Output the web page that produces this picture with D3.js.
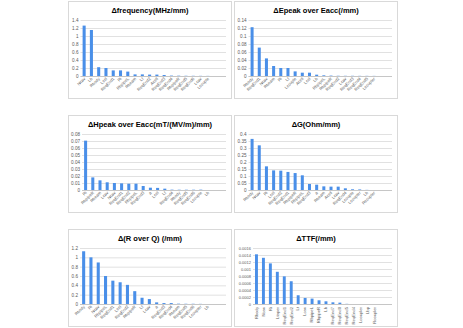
<!DOCTYPE html>
<html>
<head>
<meta charset="utf-8">
<script src="https://cdn.jsdelivr.net/npm/d3@7"></script>
<style>
  body { margin: 0; background: #fff; }
  text { font-family: "Liberation Sans", Arial, sans-serif; }
</style>
</head>
<body>
<svg id="chart" width="463" height="328"></svg>
<script>
// data
var freqCats = ["Ncav","Lb","Rbody","Lcel","ReqEnd1","Ri","RbpipeL","Rbeam","Lt","ReqEnd2","Acell","ReqEnd3","ReqEnd4","RbpipeR","ReqEnd5","ReqEnd6","Lcav","Lcouple"];
var freqVals = [1.26,1.15,0.22,0.20,0.14,0.14,0.11,0.04,0.04,0.035,0.035,0.025,0.01,0.008,0.006,0.005,0.004,0.003];
var freqTicks = [0,0.2,0.4,0.6,0.8,1,1.2,1.4];

var epeakCats = ["Rbody","ReqEnd1","Ncav","Rbeam","Ri","Lt","Lcouple","Acell","Lcel","Lb","RbpipeL","RbpipeR","ReqEnd2","Lcav","ReqEnd3","ReqEnd4","ReqEnd5","Lcoupler"];
var epeakVals = [0.122,0.071,0.044,0.025,0.020,0.020,0.0115,0.0083,0.0083,0.0033,0.0017,0.001,0.0006,0.0005,0.0005,0.0004,0.0004,0.0003];
var epeakTicks = [0,0.02,0.04,0.06,0.08,0.1,0.12,0.14];

var hpeakCats = ["Ri","RbpipeR","Rbeam","Lcav","Ncav","ReqEnd1","ReqEnd2","RbpipeL","ReqEnd3","a","Lcel","Lt","ReqEnd4","Rbody","ReqEnd5","ReqEnd6","Lcouple","Lb"];
var hpeakVals = [0.0705,0.018,0.0138,0.011,0.010,0.0095,0.009,0.009,0.0057,0.0033,0.003,0.0019,0.0005,0.0004,0.0004,0.0004,0.0005,0];
var hpeakTicks = [0,0.01,0.02,0.03,0.04,0.05,0.06,0.07,0.08];

var gCats = ["Rbody","Ncav","Ri","Lcel","ReqEnd2","ReqEnd1","RbpipeR","RbpipeL","ReqEnd3","a","Rbeam","Acell","Lcav","ReqEnd4","Lcouple","Lcoupler","Lb","Rcoupler"];
var gVals = [0.365,0.319,0.169,0.140,0.138,0.129,0.121,0.105,0.043,0.038,0.026,0.024,0.024,0.012,0.005,0.004,0.001,0];
var gTicks = [0,0.05,0.1,0.15,0.2,0.25,0.3,0.35,0.4];

var rqCats = ["Rbody","Ri","Ncav","RbpipeL","ReqEnd1","Lcel","ReqEnd2","RbpipeR","Lt","Lcav","a","ReqEnd3","ReqEnd4","Rbeam","ReqEnd5","ReqEnd6","Lcoupler","Lb"];
var rqVals = [1.13,1.00,0.89,0.60,0.50,0.466,0.41,0.275,0.134,0.106,0.035,0.02,0.02,0.007,0.005,0.005,0.003,0];
var rqTicks = [0,0.2,0.4,0.6,0.8,1,1.2];

var ttfCats = ["Rbody","Ncav","Ri","Ltaper","ReqEnd1","ReqEnd2","Lt","Lcav","RbpipeL","RbpipeR","Lb","ReqEnd7","ReqEnd0","ReqEnd5","ReqEnd4","Lcoupler","Lbp","Rcoupler"];
var ttfVals = [0.00142,0.00132,0.00116,0.00092,0.00079,0.00065,0.00025,0.000173,0.000154,0.000106,0.000077,0.000048,0.000039,0.000005,0,0,0,0];
var ttfTicks = [0,0.0002,0.0004,0.0006,0.0008,0.001,0.0012,0.0014,0.0016];

var panels = [
  {title: "\u0394frequency(MHz/mm)", cats: freqCats, vals: freqVals, ticks: freqTicks, px: 68, py: 1, left: 12.5, rot: -45, tickFont: 4.6},
  {title: "\u0394Epeak over Eacc(/mm)", cats: epeakCats, vals: epeakVals, ticks: epeakTicks, px: 234, py: 1, left: 14.5, rot: -45, tickFont: 4.6},
  {title: "\u0394Hpeak over Eacc(mT/(MV/m)/mm)", cats: hpeakCats, vals: hpeakVals, ticks: hpeakTicks, px: 68, py: 115, left: 14, rot: -45, tickFont: 4.6},
  {title: "\u0394G(Ohm/mm)", cats: gCats, vals: gVals, ticks: gTicks, px: 234, py: 115, left: 14.5, rot: -45, tickFont: 4.6},
  {title: "\u0394(R over Q) (/mm)", cats: rqCats, vals: rqVals, ticks: rqTicks, px: 68, py: 229, left: 12, rot: -45, tickFont: 4.6},
  {title: "\u0394TTF(/mm)", cats: ttfCats, vals: ttfVals, ticks: ttfTicks, px: 234, py: 229, left: 19, rot: -90, tickFont: 4}
];

var panelW = 164, panelH = 98;
var svg = d3.select("#chart");

panels.forEach(function(p) {
  var g = svg.append("g").attr("transform", "translate(" + p.px + "," + p.py + ")");

  g.append("rect")
    .attr("x", 0.5).attr("y", 0.5)
    .attr("width", panelW - 1).attr("height", panelH - 1)
    .attr("fill", "#fff").attr("stroke", "#d9d9d9");

  g.append("text")
    .attr("x", panelW / 2).attr("y", 11.5)
    .attr("text-anchor", "middle")
    .style("font-size", "7.5px").style("font-weight", "bold")
    .attr("fill", "#000")
    .text(p.title);

  var top = 19, bottom = 75, left = p.left, right = panelW - 6;
  var step = (right - left) / 20;   // chart area has room for 20 slots

  var y = d3.scaleLinear()
    .domain([0, p.ticks[p.ticks.length - 1]])
    .range([bottom, top]);

  var x = d3.scaleBand()
    .domain(p.cats)
    .range([left, left + step * p.cats.length])
    .paddingInner(0.58)
    .paddingOuter(0.29);

  // gridlines + y labels
  var yAxis = g.append("g")
    .attr("transform", "translate(" + left + ",0)")
    .call(d3.axisLeft(y).tickValues(p.ticks).tickSize(-(right - left)).tickPadding(2)
      .tickFormat(function(d) { return String(d); }));
  yAxis.select(".domain").remove();
  yAxis.selectAll("line").attr("stroke", "#d9d9d9").attr("stroke-width", 0.8);
  yAxis.selectAll("text").attr("fill", "#595959").style("font-size", p.tickFont + "px")
    .style("font-family", "'Liberation Sans', Arial, sans-serif");

  // baseline
  g.append("line")
    .attr("x1", left).attr("x2", right)
    .attr("y1", bottom + 0.5).attr("y2", bottom + 0.5)
    .attr("stroke", "#bfbfbf").attr("stroke-width", 0.8);

  g.selectAll("rect.bar")
    .data(p.vals)
    .enter().append("rect")
    .attr("class", "bar")
    .attr("x", function(d, i) { return x(p.cats[i]); })
    .attr("y", function(d) { return y(d); })
    .attr("width", x.bandwidth())
    .attr("height", function(d) { return bottom - y(d); })
    .attr("fill", "#4a8fe8");

  // category labels
  g.selectAll("text.cat")
    .data(p.cats)
    .enter().append("text")
    .attr("class", "cat")
    .attr("transform", function(d) {
      var cx = x(d) + x.bandwidth() / 2;
      return p.rot === -90
        ? "translate(" + (cx + 1.3) + "," + (bottom + 3) + ") rotate(-90)"
        : "translate(" + (cx + 1.5) + "," + (bottom + 3) + ") rotate(-45)";
    })
    .attr("text-anchor", "end")
    .attr("fill", "#595959")
    .style("font-size", "4.2px")
    .text(function(d) { return d; });
});
</script>
</body>
</html>
